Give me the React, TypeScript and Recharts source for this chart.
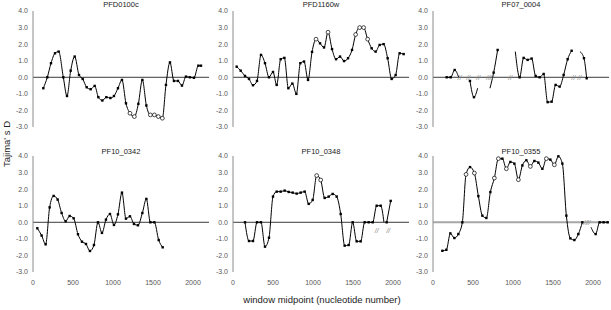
import React from 'react';
import { ComposedChart, Line, XAxis, YAxis, ReferenceLine, ReferenceDot } from 'recharts';

// window midpoints (nt) and Tajima's D for each gene; null = gap in the series
const pfd0100cX = [129, 179, 225, 275, 321, 379, 425, 471, 521, 575, 621, 671, 721, 771, 817, 867, 917, 967, 1012, 1062, 1112, 1162, 1212, 1267, 1317, 1367, 1417, 1467, 1517, 1567, 1617, 1662, 1712, 1762, 1812, 1862, 1912, 1962, 2012, 2067, 2100];
const pfd0100cD = [-0.66, 0, 0.85, 1.45, 1.55, 0, -1.13, 0.4, 1.25, 0.14, -0.1, -0.6, -0.72, -0.52, -1.2, -1.4, -1.2, -1.25, -1.13, -0.66, -0.16, -1.57, -2.17, -2.37, -1.6, -0.16, -1.7, -2.27, -2.27, -2.37, -2.47, -0.46, 0.9, -0.22, -0.22, -0.5, 0.04, 0, -0.03, 0.7, 0.7];
const pfd0100cOpen = [1212, 1267, 1467, 1517, 1567, 1617];

const pfd1160wX = [46, 96, 150, 200, 250, 300, 350, 400, 450, 500, 546, 596, 642, 692, 742, 792, 842, 888, 938, 988, 1038, 1088, 1138, 1188, 1238, 1288, 1338, 1388, 1438, 1488, 1533, 1583, 1633, 1683, 1733, 1783, 1833, 1883, 1933, 1983, 2033, 2083, 2133];
const pfd1160wD = [0.64, 0.4, 0.08, -0.1, -0.48, -0.22, 1.35, 0.85, 0, 0.32, -0.46, 1.09, 1.17, -0.66, -0.38, -1.0, 0.85, 0.95, -0.16, 1.53, 2.3, 2.05, 1.8, 2.72, 1.7, 1.09, 1.25, 0.98, 1.15, 1.65, 2.58, 3.0, 3.0, 2.3, 1.75, 1.55, 1.95, 2.0, 1.15, -0.1, 0.14, 1.45, 1.4];
const pfd1160wOpen = [1038, 1188, 1533, 1583, 1633, 1683];

const pf070004X = [171, 221, 271, 321, 390, 462, 512, 558, 635, 712, 758, 808, 920, 1029, 1083, 1133, 1183, 1233, 1283, 1333, 1383, 1433, 1483, 1533, 1583, 1633, 1683, 1733, 1790, 1837, 1887, 1921];
const pf070004D = [0, 0, 0.44, 0, null, -0.22, -1.2, -0.66, null, -0.66, 0.28, 1.65, null, 1.55, 0, 1.17, 1.05, 1.13, 0.08, 0, 0.2, -1.5, -1.47, -0.46, -0.56, 0.14, 1.09, 1.6, null, 1.55, 1.15, -0.06];
const pf070004Bare = [321, 558, 712, 1029, 1837];
const pf070004Breaks = [335, 440, 565, 690, 735, 965, 1755, 1830];

const pf100342X = [54, 108, 158, 208, 258, 308, 358, 408, 458, 508, 562, 612, 662, 712, 762, 812, 862, 912, 962, 1012, 1062, 1112, 1162, 1212, 1262, 1312, 1367, 1417, 1467, 1517, 1571, 1621];
const pf100342D = [-0.36, -0.8, -1.33, 0.9, 1.59, 1.37, 0.56, 0.06, 0.38, 0.24, -0.72, -1.17, -1.31, -1.73, -1.37, 0, -0.64, 0.16, 0.5, -0.16, 0.48, 1.79, 0.22, 0.36, -0.1, -0.18, 0.56, 1.41, 0, 0, -1.07, -1.51];

const pf100348X = [150, 200, 250, 300, 350, 400, 450, 500, 546, 596, 646, 696, 746, 796, 846, 896, 946, 996, 1046, 1096, 1146, 1196, 1246, 1296, 1346, 1396, 1446, 1496, 1546, 1596, 1646, 1696, 1746, 1796, 1846, 1887, 1905, 1921, 1971];
const pf100348D = [0, -1.13, -1.13, 0, 0, -1.47, -0.93, 1.55, 1.85, 1.85, 1.91, 1.83, 1.79, 1.73, 1.79, 1.85, 1.11, 1.35, 2.82, 2.55, 1.47, 1.55, 1.71, 1.55, 0.5, -1.41, -1.37, 0, -1.15, -1.15, 0, 0, 0, 1.0, 1.0, 0, null, 0, 1.29];
const pf100348Open = [1046, 1096];
const pf100348Bare = [1887];
const pf100348Breaks = [1796, 1942];

const pf100355X = [117, 167, 217, 267, 317, 367, 413, 463, 517, 567, 617, 667, 717, 767, 817, 867, 917, 967, 1017, 1067, 1117, 1167, 1217, 1267, 1317, 1367, 1417, 1467, 1517, 1567, 1617, 1667, 1717, 1767, 1817, 1867, 1930, 1975, 2033, 2083, 2133, 2183];
const pf100355D = [-1.72, -1.66, -0.67, -0.95, -0.71, 0, 2.89, 3.33, 2.97, 1.58, 0.4, 0.26, 1.82, 2.67, 3.84, 3.84, 3.23, 3.64, 3.54, 2.57, 3.43, 3.74, 3.37, 3.7, 3.6, 3.23, 3.84, 3.78, 3.47, 3.98, 3.54, 0.4, -0.97, -1.07, -0.71, 0, null, -0.3, -0.71, 0, 0, 0];
const pf100355Open = [413, 517, 767, 817, 917, 1067, 1217, 1417, 1517];
const pf100355Bare = [1975];
const pf100355Breaks = [1905, 1945];

const yTicks = [-3, -2, -1, 0, 1, 2, 3, 4];
const xTicks = [0, 500, 1000, 1500, 2000];

const FONT = '"Liberation Sans", Arial, sans-serif';

type Panel = {
  title: string;
  x: number[];
  d: (number | null)[];
  open?: number[];
  bare?: number[];
  breaks?: number[];
  breakY?: number;
  zero?: string;
  zeroWidth?: number;
};

const panels: Panel[] = [
  { title: 'PFD0100c', x: pfd0100cX, d: pfd0100cD, open: pfd0100cOpen },
  { title: 'PFD1160w', x: pfd1160wX, d: pfd1160wD, open: pfd1160wOpen },
  { title: 'PF07_0004', x: pf070004X, d: pf070004D, bare: pf070004Bare, breaks: pf070004Breaks, breakY: 0 },
  { title: 'PF10_0342', x: pf100342X, d: pf100342D },
  { title: 'PF10_0348', x: pf100348X, d: pf100348D, open: pf100348Open, bare: pf100348Bare, breaks: pf100348Breaks, breakY: -0.45 },
  { title: 'PF10_0355', x: pf100355X, d: pf100355D, open: pf100355Open, bare: pf100355Bare, breaks: pf100355Breaks, breakY: 0, zero: '#a6a6a6', zeroWidth: 2 },
];

const makeDot = (open: number[], bare: number[]) => (p: any) => {
  const { cx, cy, payload, index } = p;
  if (payload.d == null || cx == null || cy == null || bare.includes(payload.x)) return <g key={index} />;
  if (open.includes(payload.x))
    return <circle key={index} cx={cx} cy={cy} r={1.9} fill="#fff" stroke="#000" strokeWidth={0.7} />;
  return <rect key={index} x={cx - 1.2} y={cy - 1.2} width={2.4} height={2.4} fill="#000" />;
};

const breakMark = (s: any) => (
  <text x={s.cx} y={s.cy} dy={3} textAnchor="middle" fontSize={7} fontStyle="italic" fill="#888" fontFamily={FONT}>
    //
  </text>
);

const SmallChart = ({ p, bottom }: { p: Panel; bottom: boolean }) => {
  const rows = p.x.map((x, i) => ({ x, d: p.d[i] }));
  return (
    <ComposedChart width={210} height={bottom ? 149 : 132} data={rows} margin={{ top: 11, right: 1, bottom: bottom ? 1 : 5, left: 0 }}>
      <XAxis
        dataKey="x"
        type="number"
        domain={[0, 2200]}
        ticks={xTicks}
        interval={0}
        hide={!bottom}
        height={21}
        axisLine={false}
        tickLine={false}
        tickSize={6}
        tickMargin={2}
        tick={{ fontSize: 7, fill: '#595959', fontFamily: FONT }}
      />
      <YAxis
        type="number"
        domain={[-3, 4]}
        ticks={yTicks}
        interval={0}
        width={33}
        tickFormatter={(v: number) => v.toFixed(1)}
        axisLine={{ stroke: '#8a8a8a' }}
        tickLine={false}
        tickSize={4}
        tickMargin={1}
        tick={{ fontSize: 7, fill: '#595959', fontFamily: FONT }}
      />
      <ReferenceLine y={0} stroke={p.zero ?? '#3a3a3a'} strokeWidth={p.zeroWidth ?? 1} />
      <Line
        dataKey="d"
        type="monotone"
        stroke="#000"
        strokeWidth={1}
        connectNulls={false}
        dot={makeDot(p.open ?? [], p.bare ?? [])}
        activeDot={false}
        isAnimationActive={false}
      />
      {(p.breaks ?? []).map((bx) => (
        <ReferenceDot key={bx} x={bx} y={p.breakY ?? 0} r={0} shape={breakMark} />
      ))}
    </ComposedChart>
  );
};

export default function App() {
  return (
    <div style={{ position: 'absolute', left: 0, top: 0, width: 611, height: 310, background: '#fff', overflow: 'hidden', fontFamily: FONT }}>
      {panels.map((p, i) => {
        const col = i % 3;
        const row = Math.floor(i / 3);
        const top = row === 0 ? 0 : 145;
        return (
          <div key={p.title} style={{ position: 'absolute', left: col * 200, top, width: 210 }}>
            <SmallChart p={p} bottom={row === 1} />
            <div style={{ position: 'absolute', left: 33, top: row === 0 ? 0 : 2, width: 176, textAlign: 'center', fontSize: 7.5, lineHeight: '10px', color: '#222' }}>
              {p.title}
            </div>
          </div>
        );
      })}
      <div style={{ position: 'absolute', left: -33, top: 138, width: 80, textAlign: 'center', fontSize: 9.5, lineHeight: '12px', color: '#222', transform: 'rotate(-90deg)' }}>
        Tajima' s D
      </div>
      <div style={{ position: 'absolute', left: 222, top: 294, width: 200, textAlign: 'center', fontSize: 9.5, lineHeight: '12px', color: '#222' }}>
        window midpoint (nucleotide number)
      </div>
    </div>
  );
}
